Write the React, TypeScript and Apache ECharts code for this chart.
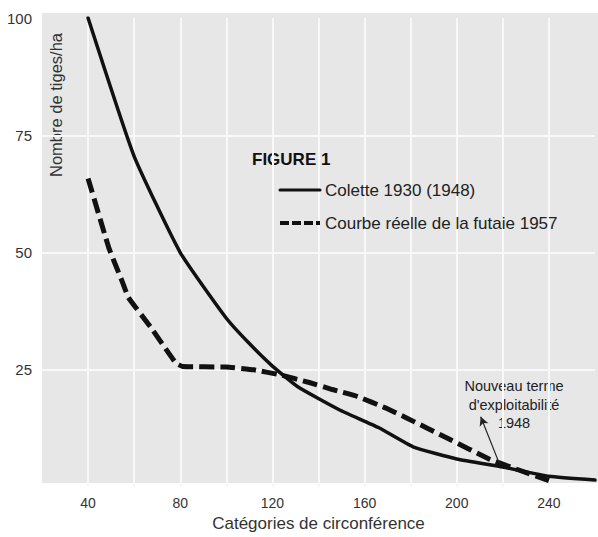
import React, { useEffect, useRef } from "react";
import * as echarts from "echarts";

// Circumference categories (x) and stem counts per ha (y)
const solidX = [40, 60, 80, 100, 110, 120, 131, 149, 166, 181, 200, 220, 240, 260];
const solidY = [100, 70.5, 50, 36, 30.6, 25.8, 21.4, 16.5, 12.7, 8.6, 6, 4.3, 2.3, 1.5];

const dashedX = [40, 49, 55, 57.5, 67, 78, 81, 100, 112, 122.7, 136, 146, 157, 169, 178, 196, 214, 226, 240];
const dashedY = [65.8, 51, 43.6, 40.4, 34.2, 26.5, 25.7, 25.6, 25, 24, 22.3, 20.8, 19.3, 16.9, 14.8, 10.4, 6, 3.8, 1.4];

const seriesNames = ["Colette 1930 (1948)", "Courbe réelle de la futaie 1957"];
const xTicks = [40, 80, 120, 160, 200, 240];
const yTicks = [25, 50, 75, 100];
const annotationLines = ["Nouveau terme", "d'exploitabilité", "1948"];
const arrowFrom = [218.5, 5];
const arrowTo = [210.4, 15];

const FONT = "'Liberation Sans', Arial, Helvetica, sans-serif";

export default function App() {
  const ref = useRef<HTMLDivElement>(null);
  useEffect(() => {
    if (!ref.current) return;
    const chart = echarts.init(ref.current, null, { renderer: "svg" });
    chart.setOption({
      animation: false,
      backgroundColor: "#ffffff",
      textStyle: { fontFamily: FONT },
      grid: { left: 42, right: 0, top: 18, bottom: 49.5, containLabel: false },
      xAxis: {
        type: "value",
        min: 20,
        max: 260,
        interval: 20,
        name: "Catégories de circonférence",
        nameLocation: "middle",
        nameGap: 27,
        nameTextStyle: { fontSize: 17, color: "#333", fontFamily: FONT },
        axisLine: { show: false },
        axisTick: { show: false },
        axisLabel: {
          margin: 9,
          fontSize: 14,
          color: "#333",
          fontFamily: FONT,
          formatter: (v: number) => (xTicks.includes(v) ? String(v) : ""),
        },
        splitLine: {
          show: true,
          showMinLine: false,
          showMaxLine: false,
          lineStyle: { color: "#f8f8f8", width: 2 },
        },
      },
      yAxis: {
        type: "value",
        min: 0,
        max: 100,
        interval: 25,
        axisLine: { show: false },
        axisTick: { show: false },
        axisLabel: {
          margin: 10,
          fontSize: 15,
          color: "#333",
          fontFamily: FONT,
          formatter: (v: number) => (yTicks.includes(v) ? String(v) : ""),
        },
        splitLine: {
          show: true,
          showMinLine: false,
          showMaxLine: false,
          lineStyle: { color: "#f8f8f8", width: 2 },
        },
      },
      legend: {
        orient: "vertical",
        left: 278,
        top: 181.5,
        padding: 0,
        itemGap: 16,
        itemWidth: 40,
        itemHeight: 16,
        textStyle: { fontSize: 17, color: "#222", fontFamily: FONT, lineHeight: 17 },
        data: [
          {
            name: seriesNames[0],
            itemStyle: { color: "rgba(0,0,0,0)", borderWidth: 0, opacity: 0 },
            lineStyle: { width: 3, color: "#111", type: "solid" },
          },
          {
            name: seriesNames[1],
            itemStyle: { color: "rgba(0,0,0,0)", borderWidth: 0, opacity: 0 },
            lineStyle: { width: 4, color: "#111", type: [9, 3] },
          },
        ],
      },
      graphic: [
        {
          type: "rect",
          z: -100,
          silent: true,
          shape: { x: 42, y: 13, width: 556, height: 470 },
          style: { fill: "#e7e7e7" },
        },
        {
          type: "text",
          x: 56,
          y: 105,
          rotation: Math.PI / 2,
          silent: true,
          style: {
            text: "Nombre de tiges/ha",
            fontSize: 16.5,
            fontFamily: FONT,
            fill: "#333",
            align: "center",
            verticalAlign: "middle",
          },
        },
        {
          type: "text",
          x: 252,
          y: 159,
          silent: true,
          style: {
            text: "FIGURE 1",
            fontSize: 17,
            fontWeight: "bold",
            fontFamily: FONT,
            fill: "#111",
            align: "left",
            verticalAlign: "middle",
          },
        },
        ...annotationLines.map((t, i) => ({
          type: "text",
          x: 514,
          y: 386 + i * 18.5,
          silent: true,
          style: {
            text: t,
            fontSize: 14.5,
            fontFamily: FONT,
            fill: "#222",
            align: "center",
            verticalAlign: "middle",
          },
        })),
      ],
      series: [
        {
          name: seriesNames[0],
          type: "line",
          data: solidX.map((x, i) => [x, solidY[i]]),
          symbol: "none",
          smooth: 0.15,
          lineStyle: { color: "#111", width: 3.5, cap: "round", join: "round" },
          itemStyle: { color: "#111" },
          z: 3,
          markLine: {
            silent: true,
            symbol: ["none", "arrow"],
            symbolSize: [7, 9],
            label: { show: false },
            lineStyle: { color: "#222", width: 1.2, type: "solid" },
            data: [[{ coord: arrowFrom }, { coord: arrowTo }]],
          },
        },
        {
          name: seriesNames[1],
          type: "line",
          data: dashedX.map((x, i) => [x, dashedY[i]]),
          symbol: "none",
          smooth: 0.1,
          lineStyle: { color: "#111", width: 5, type: [15, 6], cap: "butt", join: "round" },
          itemStyle: { color: "#111" },
          z: 2,
        },
      ],
    });
    return () => chart.dispose();
  }, []);
  return (
    <div
      ref={ref}
      style={{ position: "fixed", left: 0, top: 0, width: 598, height: 537 }}
    />
  );
}
